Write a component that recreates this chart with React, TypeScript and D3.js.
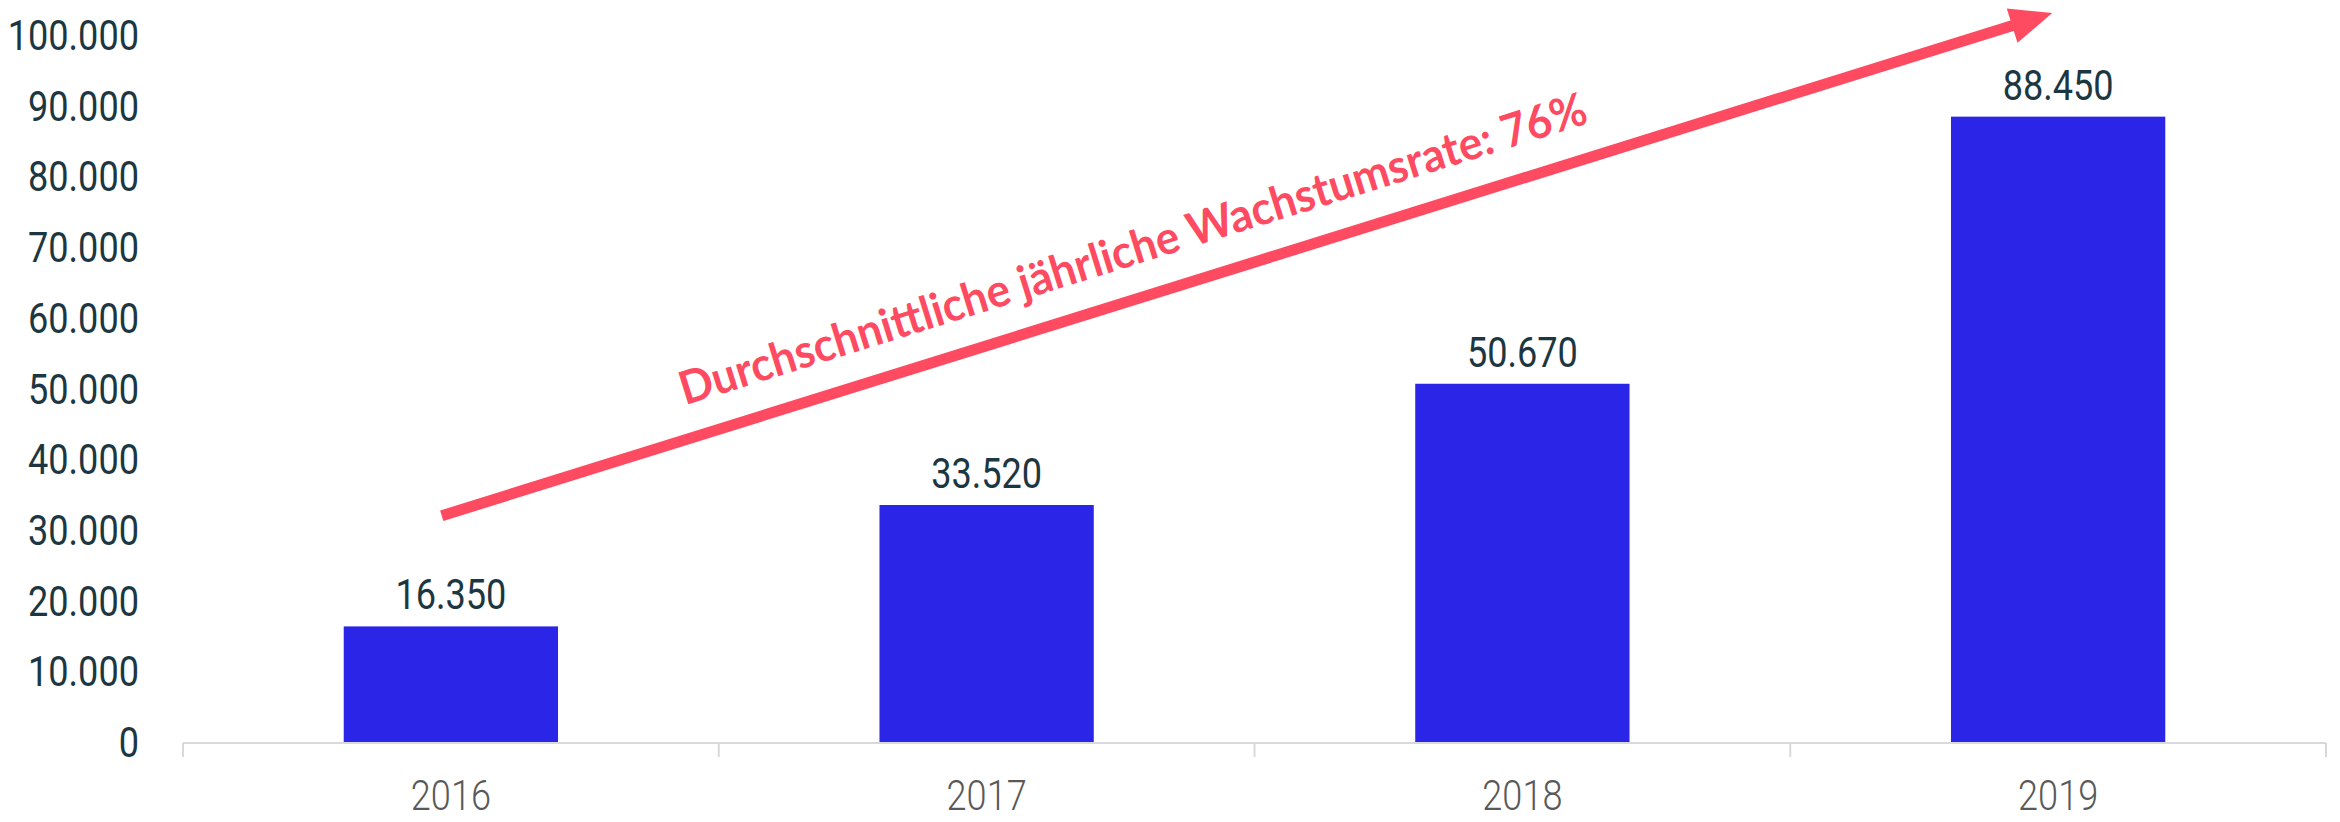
import React from "react";
import * as d3 from "d3";

const categories = ["2016", "2017", "2018", "2019"];
const values = [16350, 33520, 50670, 88450];
const yTickValues = [0, 10000, 20000, 30000, 40000, 50000, 60000, 70000, 80000, 90000, 100000];
const annotationText = "Durchschnittliche jährliche Wachstumsrate: 76%";
// arrow in data units: x in band steps from the axis start, y in values
const arrowStart = [0.483, 32000];
const arrowEnd = [3.489, 103100];
const textAnchorPt = [1.7816, 67600];

const W = 2340;
const H = 822;
const numFont = "Roboto, 'DejaVu Sans Condensed', sans-serif";
const SX = 0.86;

const locale = d3.formatLocale({ decimal: ",", thousands: ".", grouping: [3], currency: ["", "€"] });
const fmt = locale.format(",d");

function NarrowText(props: { x: number; y: number; anchor: string; fill: string; size: number; weight: number; children: string }) {
  const { x, y, anchor, fill, size, weight, children } = props;
  return (
    <text
      transform={`translate(${x},${y}) scale(${SX},1)`}
      textAnchor={anchor}
      fontFamily={numFont}
      fontWeight={weight}
      fontSize={size}
      fill={fill}
    >
      {children}
    </text>
  );
}

export default function App() {
  const x = d3.scaleBand<string>().domain(categories).range([183, 2326]).paddingInner(0.6).paddingOuter(0.3);
  const y = d3.scaleLinear().domain([0, 100000]).range([742, 35]);
  const step = x.step();
  const xr0 = 183;
  const ax = (u: number) => xr0 + u * step;

  const x1 = ax(arrowStart[0]), y1 = y(arrowStart[1]);
  const x2 = ax(arrowEnd[0]), y2 = y(arrowEnd[1]);
  const ang = Math.atan2(y2 - y1, x2 - x1);
  const headLen = 42, headHalf = 18;
  const bx = x2 - headLen * Math.cos(ang), by = y2 - headLen * Math.sin(ang);
  const px = -Math.sin(ang), py = Math.cos(ang);
  const head = `M${x2},${y2} L${bx + px * headHalf},${by + py * headHalf} L${bx - px * headHalf},${by - py * headHalf} Z`;

  const tx = ax(textAnchorPt[0]), ty = y(textAnchorPt[1]);
  const tAng = (ang * 180) / Math.PI;

  const boundaries = d3.range(categories.length + 1).map((i) => xr0 + i * step);
  const capHalf = 15;

  return (
    <svg width={W} height={H} style={{ position: "absolute", left: 0, top: 0, background: "#fff" }}>
      {/* y labels */}
      {yTickValues.map((v) => (
        <NarrowText key={v} x={139} y={y(v) + capHalf} anchor="end" fill="#1c3742" size={42} weight={400}>
          {fmt(v)}
        </NarrowText>
      ))}
      {/* bars */}
      {values.map((v, i) => (
        <rect key={i} x={x(categories[i])} y={y(v)} width={x.bandwidth()} height={y(0) - y(v)} fill="#2b25e8" />
      ))}
      {/* value labels */}
      {values.map((v, i) => (
        <NarrowText key={"l" + i} x={(x(categories[i]) as number) + x.bandwidth() / 2} y={y(v) - 17} anchor="middle" fill="#1c3742" size={42} weight={400}>
          {fmt(v)}
        </NarrowText>
      ))}
      {/* x axis */}
      <line x1={xr0} x2={boundaries[boundaries.length - 1]} y1={y(0) + 1} y2={y(0) + 1} stroke="#d9d9d9" strokeWidth={2} />
      {boundaries.map((b, i) => (
        <line key={"t" + i} x1={b} x2={b} y1={y(0) + 1} y2={y(0) + 15} stroke="#d9d9d9" strokeWidth={2} />
      ))}
      {categories.map((c) => (
        <NarrowText key={c} x={(x(c) as number) + x.bandwidth() / 2} y={810} anchor="middle" fill="#595959" size={42} weight={300}>
          {c}
        </NarrowText>
      ))}
      {/* arrow */}
      <line x1={x1} y1={y1} x2={bx + 4 * Math.cos(ang)} y2={by + 4 * Math.sin(ang)} stroke="#ff4b61" strokeWidth={11} />
      <path d={head} fill="#ff4b61" />
      <text
        x={tx}
        y={ty}
        textAnchor="middle"
        transform={`rotate(${tAng},${tx},${ty})`}
        fontFamily="Lato, 'Open Sans', sans-serif"
        fontWeight="bold"
        fontSize={46}
        fill="#ff4b61"
        textLength={948}
        lengthAdjust="spacingAndGlyphs"
      >
        {annotationText}
      </text>
    </svg>
  );
}
